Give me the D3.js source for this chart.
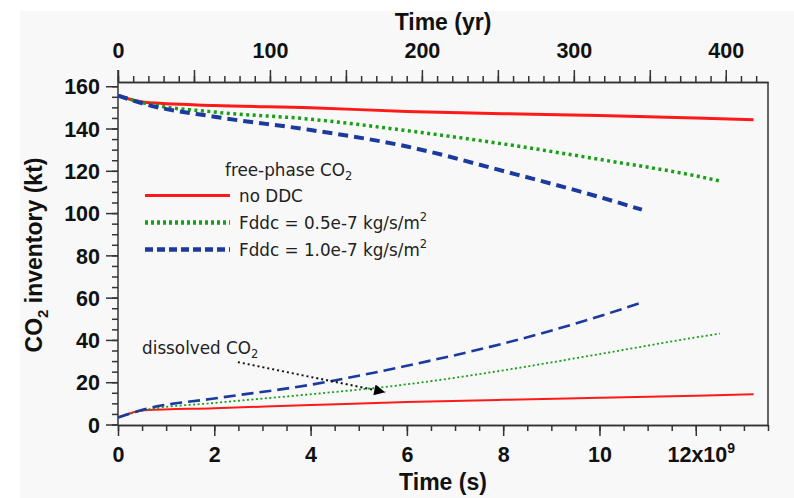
<!DOCTYPE html>
<html>
<head>
<meta charset="utf-8">
<script src="https://cdn.jsdelivr.net/npm/d3@7"></script>
<style>
  html, body { margin: 0; padding: 0; background: #ffffff; }
  svg { display: block; }
  .tick text { font-family: "Liberation Sans", Arial, sans-serif; font-weight: bold; font-size: 21.5px; fill: #111; }
  .tick line, .domain { stroke: #333; stroke-width: 1.5; }
</style>
</head>
<body>
<svg id="chart" width="794" height="498"></svg>
<script>
// Elapsed time is stored in units of 1e9 s; CO2 inventories in kt.
const SEC_PER_YEAR = 3.15576e7;

// no DDC
const tNoDDC    = [0, 0.55, 2, 4, 6, 8, 10, 12, 13.2];
const freeNoDDC = [155.6, 152.4, 150.9, 149.8, 148.1, 147.0, 146.1, 145.0, 144.2];
const dissNoDDC = [3.3, 6.7, 7.7, 9.2, 10.6, 11.7, 12.6, 13.6, 14.3];

// Fddc = 0.5e-7 kg/s/m2
const tF05    = [0, 0.55, 2, 4, 6, 8, 10, 12, 12.5];
const freeF05 = [155.6, 152.0, 147.8, 144.4, 139.0, 132.7, 125.4, 117.6, 115.2];
const dissF05 = [3.3, 6.8, 10.2, 14.3, 19.0, 25.6, 33.3, 41.2, 43.0];

// Fddc = 1.0e-7 kg/s/m2
const tF10    = [0, 0.55, 2, 4, 6, 8, 10, 10.88];
const freeF10 = [155.6, 151.6, 145.6, 139.3, 131.5, 119.9, 107.6, 101.6];
const dissF10 = [3.3, 7.2, 12.3, 18.8, 27.8, 38.3, 51.2, 57.7];

// Axis ticks
const xMajorTicks = [0, 2, 4, 6, 8, 10, 12];
const yMajorTicks = [0, 20, 40, 60, 80, 100, 120, 140, 160];
const yrLabelTicks = [0, 100, 200, 300, 400];

const legendTitle = "free-phase CO";
const legendLabels = ["no DDC", "Fddc = 0.5e-7 kg/s/m", "Fddc = 1.0e-7 kg/s/m"];

const colors = { red: "#ff1a1a", green: "#16a016", blue: "#1a3a9e" };

const series = [
  { t: tNoDDC, free: freeNoDDC, diss: dissNoDDC, color: colors.red,
    freeStyle: { w: 3, dash: null }, dissStyle: { w: 2, dash: null } },
  { t: tF05, free: freeF05, diss: dissF05, color: colors.green,
    freeStyle: { w: 3.5, dash: "3,3.5" }, dissStyle: { w: 1.8, dash: "2,2.5" } },
  { t: tF10, free: freeF10, diss: dissF10, color: colors.blue,
    freeStyle: { w: 4, dash: "10,6" }, dissStyle: { w: 2.6, dash: "12,6" } }
];

const svg = d3.select("#chart");
const W = 794, H = 498;
const m = { left: 118, right: 768, top: 82, bottom: 425 };

// light panel behind everything
svg.append("rect").attr("x", 20).attr("y", 11).attr("width", W - 20).attr("height", H - 11)
  .attr("fill", "#f8f8f8");

const x = d3.scaleLinear().domain([0, 13.5]).range([m.left, m.right]);
const xYr = d3.scaleLinear().domain([0, 13.5e9 / SEC_PER_YEAR]).range([m.left, m.right]);
const y = d3.scaleLinear().domain([0, 162]).range([424.5, m.top]);

// ---- bottom axis (seconds)
svg.append("g").attr("transform", `translate(0,${m.bottom})`)
  .call(d3.axisBottom(x).tickValues(d3.range(0, 13.51, 0.5)).tickSize(6).tickSizeOuter(0).tickFormat(""));
const gxb = svg.append("g").attr("transform", `translate(0,${m.bottom})`)
  .call(d3.axisBottom(x).tickValues(xMajorTicks).tickSize(11).tickSizeOuter(0).tickFormat(d3.format("d")));
gxb.selectAll(".tick text").attr("y", 37).attr("dy", 0);
gxb.selectAll(".tick text").filter(d => d === 12).each(function () {
  const t = d3.select(this).text("");
  t.append("tspan").text("12x10");
  t.append("tspan").text("9").attr("font-size", 14).attr("dy", -9);
}).attr("dx", 5);

// ---- top axis (years)
svg.append("g").attr("transform", `translate(0,${m.top})`)
  .call(d3.axisTop(xYr).tickValues(d3.range(0, 421, 10)).tickSize(6).tickSizeOuter(0).tickFormat(""));
svg.append("g").attr("transform", `translate(0,${m.top})`)
  .call(d3.axisTop(xYr).tickValues(d3.range(0, 401, 50)).tickSize(12).tickSizeOuter(0).tickFormat(""));
const gxt = svg.append("g").attr("transform", `translate(0,${m.top})`)
  .call(d3.axisTop(xYr).tickValues(yrLabelTicks).tickSize(0).tickSizeOuter(0).tickFormat(d3.format("d")));
gxt.select(".domain").remove();
gxt.selectAll(".tick text").attr("y", -24.5).attr("dy", 0);

// ---- left axis
svg.append("g").attr("transform", `translate(${m.left},0)`)
  .call(d3.axisLeft(y).tickValues(d3.range(0, 161, 5)).tickSize(6).tickSizeOuter(0).tickFormat(""))
  .select(".domain").remove();
const gyl = svg.append("g").attr("transform", `translate(${m.left},0)`)
  .call(d3.axisLeft(y).tickValues(yMajorTicks).tickSize(12).tickSizeOuter(0).tickFormat(d3.format("d")));
gyl.select(".domain").remove();
gyl.selectAll(".tick text").attr("x", -18).attr("dy", "0.36em");

// frame lines
const frame = svg.append("g").attr("stroke", "#333").attr("stroke-width", 1.5);
frame.append("line").attr("x1", m.left).attr("x2", m.left).attr("y1", m.top - 12).attr("y2", m.bottom);
frame.append("line").attr("x1", m.right).attr("x2", m.right).attr("y1", m.top).attr("y2", m.bottom);

// ---- data lines
const line = d3.line().x(d => x(d[0])).y(d => y(d[1])).curve(d3.curveMonotoneX);
const plot = svg.append("g").attr("fill", "none").attr("stroke-linejoin", "round");
series.forEach(s => {
  const freePts = s.t.map((t, i) => [t, s.free[i]]);
  const dissPts = s.t.map((t, i) => [t, s.diss[i]]);
  plot.append("path").attr("d", line(dissPts))
    .attr("stroke", s.color).attr("stroke-width", s.dissStyle.w)
    .attr("stroke-dasharray", s.dissStyle.dash);
  plot.append("path").attr("d", line(freePts))
    .attr("stroke", s.color).attr("stroke-width", s.freeStyle.w)
    .attr("stroke-dasharray", s.freeStyle.dash);
});

// ---- legend
const legFont = "'DejaVu Sans', Verdana, sans-serif";
const leg = svg.append("g").attr("font-family", legFont).attr("font-size", 16.8).attr("fill", "#222");
const title = leg.append("text").attr("x", 225).attr("y", 176);
title.append("tspan").text(legendTitle);
title.append("tspan").text("2").attr("font-size", 11.5).attr("dy", 4);
legendLabels.forEach((lab, i) => {
  const cy = 195.5 + i * 27;
  const s = series[i];
  leg.append("line").attr("x1", 145).attr("x2", 230).attr("y1", cy).attr("y2", cy)
    .attr("stroke", s.color)
    .attr("stroke-width", i === 0 ? 3 : 4.5)
    .attr("stroke-dasharray", i === 0 ? null : (i === 1 ? "3,3" : "8,4"));
  const t = leg.append("text").attr("x", 239).attr("y", cy + 6);
  t.append("tspan").text(lab);
  if (i > 0) t.append("tspan").text("2").attr("font-size", 11.5).attr("dy", -8);
});

// ---- dissolved CO2 annotation
const ann = svg.append("g").attr("font-family", legFont).attr("font-size", 16.8).attr("fill", "#222");
const at = ann.append("text").attr("x", x(0.5)).attr("y", y(33.5));
at.append("tspan").text("dissolved CO");
at.append("tspan").text("2").attr("font-size", 11.5).attr("dy", 4);

svg.append("defs").append("marker").attr("id", "arrowHead")
  .attr("viewBox", "0 0 10 10").attr("refX", 10).attr("refY", 5)
  .attr("markerWidth", 18).attr("markerHeight", 11).attr("markerUnits", "userSpaceOnUse")
  .attr("orient", "auto")
  .append("path").attr("d", "M0,0 L10,5 L0,10 Z").attr("fill", "#000");
svg.append("line")
  .attr("x1", x(2.49)).attr("y1", y(29.5)).attr("x2", x(5.55)).attr("y2", y(15.3))
  .attr("stroke", "#111").attr("stroke-width", 2).attr("stroke-dasharray", "2,3")
  .attr("marker-end", "url(#arrowHead)");

// ---- axis titles
const titleFont = "'Liberation Sans', Arial, sans-serif";
svg.append("text").attr("x", (m.left + m.right) / 2).attr("y", 30)
  .attr("text-anchor", "middle").attr("font-family", titleFont).attr("font-weight", "bold")
  .attr("font-size", 23).attr("fill", "#111").text("Time (yr)");
svg.append("text").attr("x", (m.left + m.right) / 2).attr("y", 490)
  .attr("text-anchor", "middle").attr("font-family", titleFont).attr("font-weight", "bold")
  .attr("font-size", 23).attr("fill", "#111").text("Time (s)");
const yl = svg.append("text").attr("transform", "translate(42,255) rotate(-90)")
  .attr("text-anchor", "middle").attr("font-family", titleFont).attr("font-weight", "bold")
  .attr("font-size", 23).attr("fill", "#111");
yl.append("tspan").text("CO");
yl.append("tspan").text("2").attr("font-size", 15).attr("dy", 6);
yl.append("tspan").text(" inventory (kt)").attr("dy", -6);
</script>
</body>
</html>
